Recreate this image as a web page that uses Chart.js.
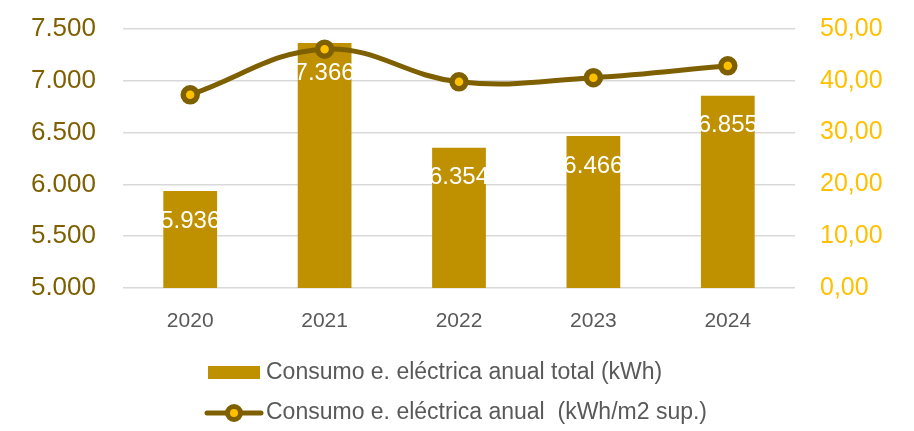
<!DOCTYPE html>
<html>
<head>
<meta charset="utf-8">
<script src="https://cdn.jsdelivr.net/npm/chart.js@4"></script>
<style>
    html, body { margin: 0; padding: 0; background: #fff; }
    #wrap { width: 914px; height: 431px; }
</style>
</head>
<body>
<div id="wrap"><canvas id="chart" width="914" height="431"></canvas></div>
<script>
const years = ['2020', '2021', '2022', '2023', '2024'];
const totalKwh = [5936, 7366, 6354, 6466, 6855];
const kwhPerM2 = [37.3, 46.1, 39.8, 40.6, 42.9];
const barLabel = 'Consumo e. eléctrica anual total (kWh)';
const lineLabel = 'Consumo e. eléctrica anual  (kWh/m2 sup.)';

const gold = '#BF9000';
const darkGold = '#7F6000';
const yellow = '#FFC000';
const grey = '#595959';
const fontFamily = '"Liberation Sans", Arial, sans-serif';

function fmtThousands(v) {
    return String(v).replace(/\B(?=(\d{3})+(?!\d))/g, '.');
}

// white value labels inside the bars
const barValues = {
    id: 'barValues',
    afterDatasetsDraw(chart) {
        const ctx = chart.ctx;
        const meta = chart.getDatasetMeta(1);
        ctx.save();
        ctx.font = '24px ' + fontFamily;
        ctx.fillStyle = '#ffffff';
        ctx.textAlign = 'center';
        ctx.textBaseline = 'middle';
        meta.data.forEach((bar, i) => {
            ctx.fillText(fmtThousands(totalKwh[i]), bar.x, bar.y + 30);
        });
        ctx.restore();
    }
};

// Excel-style legend, left aligned rows
const legendRows = {
    id: 'legendRows',
    afterDraw(chart) {
        const ctx = chart.ctx;
        ctx.save();
        ctx.font = '23px ' + fontFamily;
        ctx.textBaseline = 'middle';
        ctx.fillStyle = gold;
        ctx.fillRect(208, 366, 52, 13);
        ctx.fillStyle = grey;
        ctx.fillText(barLabel, 266, 373);

        ctx.strokeStyle = darkGold;
        ctx.lineWidth = 5;
        ctx.lineCap = 'round';
        ctx.beginPath();
        ctx.moveTo(207, 413);
        ctx.lineTo(261, 413);
        ctx.stroke();
        ctx.beginPath();
        ctx.arc(234, 413, 6.5, 0, Math.PI * 2);
        ctx.fillStyle = yellow;
        ctx.fill();
        ctx.lineWidth = 5;
        ctx.stroke();
        ctx.fillStyle = grey;
        ctx.fillText(lineLabel, 266, 413);
        ctx.restore();
    }
};

function noPad(scale) {
    scale.paddingTop = 0;
    scale.paddingBottom = 0;
}

const ctx = document.getElementById('chart').getContext('2d');
new Chart(ctx, {
    data: {
        labels: years,
        datasets: [{
            type: 'line',
            label: lineLabel,
            data: kwhPerM2,
            yAxisID: 'y1',
            borderColor: darkGold,
            borderWidth: 5,
            tension: 0.4,
            pointRadius: 7,
            pointBorderWidth: 5.5,
            pointBackgroundColor: yellow,
            pointBorderColor: darkGold,
            order: 0
        }, {
            type: 'bar',
            label: barLabel,
            data: totalKwh,
            yAxisID: 'y',
            backgroundColor: gold,
            categoryPercentage: 0.8,
            barPercentage: 0.5,
            order: 1
        }]
    },
    options: {
        responsive: false,
        animation: false,
        layout: { padding: { top: 29, bottom: 93, left: 0, right: 0 } },
        plugins: {
            legend: { display: false },
            tooltip: { enabled: false }
        },
        scales: {
            x: {
                grid: { display: false, drawTicks: false },
                border: { display: false },
                ticks: {
                    padding: 21,
                    color: grey,
                    font: { family: fontFamily, size: 21 }
                },
                afterFit(scale) {
                    scale.height = 50;
                    scale.paddingLeft = 0;
                    scale.paddingRight = 0;
                }
            },
            y: {
                position: 'left',
                min: 5000,
                max: 7500,
                grid: { color: '#d9d9d9', lineWidth: 1.5, drawTicks: false },
                border: { display: false },
                ticks: {
                    stepSize: 500,
                    padding: 27,
                    color: darkGold,
                    font: { family: fontFamily, size: 26 },
                    callback: v => fmtThousands(v)
                },
                afterFit(scale) {
                    scale.width = 123;
                    noPad(scale);
                }
            },
            y1: {
                position: 'right',
                min: 0,
                max: 50,
                grid: { display: false, drawTicks: false },
                border: { display: false },
                ticks: {
                    stepSize: 10,
                    padding: 25,
                    color: yellow,
                    font: { family: fontFamily, size: 25 },
                    callback: v => v.toFixed(2).replace('.', ',')
                },
                afterFit(scale) {
                    scale.width = 119;
                    noPad(scale);
                }
            }
        }
    },
    plugins: [barValues, legendRows]
});
</script>
</body>
</html>
